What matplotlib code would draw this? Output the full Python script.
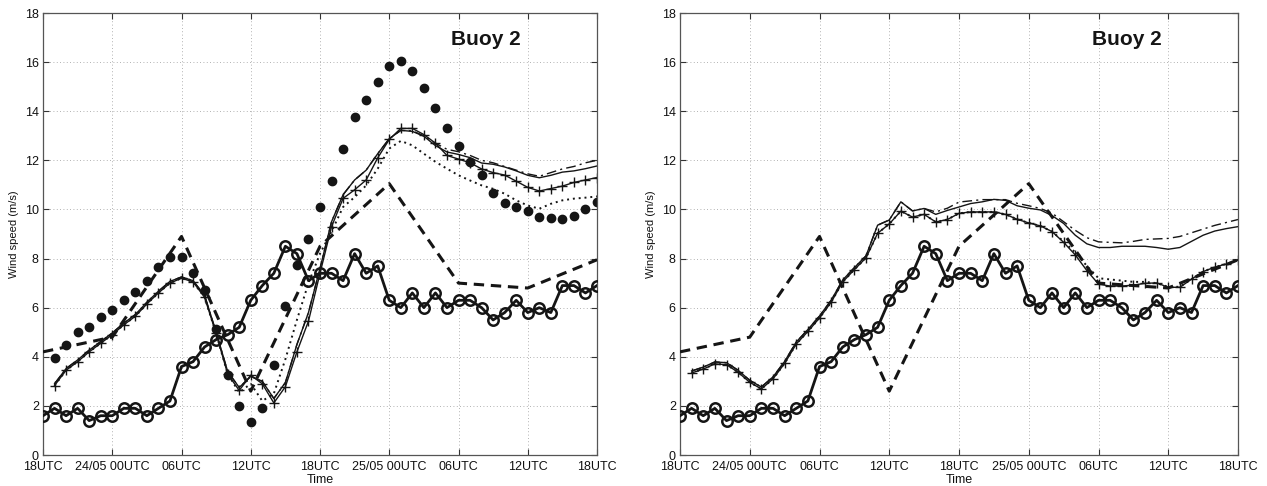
import numpy as np
import matplotlib
matplotlib.use("Agg")
import matplotlib.pyplot as plt

plt.rcParams["font.family"] = ["Liberation Sans", "DejaVu Sans"]

# ---------------------------------------------------------------------------
# Data: hours since 23/05 18UTC
# ---------------------------------------------------------------------------
hours = list(range(0, 49))
model_hours = list(range(1, 49))
analysis_hours = [0, 6, 12, 18, 24, 30, 36, 42, 48]

tick_hours = [0, 6, 12, 18, 24, 30, 36, 42, 48]
tick_labels = ["18UTC", "24/05 00UTC", "06UTC", "12UTC", "18UTC",
               "25/05 00UTC", "06UTC", "12UTC", "18UTC"]

# buoy observations (hourly)
buoy_obs = [1.6, 1.9, 1.6, 1.9, 1.4, 1.6, 1.6, 1.9, 1.9, 1.6, 1.9, 2.2,
            3.6, 3.8, 4.4, 4.7, 4.9, 5.2, 6.3, 6.9, 7.4, 8.5, 8.2, 7.1,
            7.4, 7.4, 7.1, 8.2, 7.4, 7.7, 6.3, 6.0, 6.6, 6.0, 6.6, 6.0,
            6.3, 6.3, 6.0, 5.5, 5.8, 6.3, 5.8, 6.0, 5.8, 6.9, 6.9, 6.6, 6.9]

# 6-hourly analysis
analysis = [4.2, 4.8, 8.9, 2.6, 8.5, 11.05, 7.0, 6.8, 7.95]

# left panel runs
left_dots = [3.95, 4.5, 5.0, 5.2, 5.6, 5.9, 6.3, 6.65, 7.1, 7.65, 8.05, 8.05,
             7.4, 6.7, 5.15, 3.25, 2.0, 1.35, 1.9, 3.65, 6.05, 7.75, 8.8, 10.1,
             11.15, 12.45, 13.75, 14.45, 15.2, 15.85, 16.05, 15.65, 14.95, 14.15,
             13.3, 12.6, 11.95, 11.4, 10.65, 10.25, 10.1, 9.95, 9.7, 9.65, 9.6,
             9.75, 10.0, 10.3]
left_plus = [2.83, 3.45, 3.8, 4.2, 4.55, 4.9, 5.3, 5.65, 6.15, 6.6, 7.0, 7.2,
             7.05, 6.42, 4.95, 3.3, 2.63, 3.25, 2.9, 2.12, 2.78, 4.2, 5.45, 7.4,
             9.3, 10.45, 10.8, 11.2, 12.1, 12.85, 13.3, 13.3, 13.05, 12.7, 12.2,
             12.05, 11.9, 11.65, 11.5, 11.4, 11.15, 10.9, 10.75, 10.85, 10.95,
             11.1, 11.2, 11.3]
left_solid = [2.9, 3.52, 3.87, 4.27, 4.62, 4.97, 5.37, 5.72, 6.22, 6.67, 7.07, 7.25,
              7.1, 6.5, 5.0, 3.4, 2.75, 3.2, 3.0, 2.3, 2.95, 4.5, 5.8, 7.6,
              9.5, 10.6, 11.2, 11.6, 12.27, 12.88, 13.22, 13.18, 12.98, 12.6, 12.34,
              12.24, 12.11, 11.89, 11.84, 11.73, 11.57, 11.39, 11.29, 11.39, 11.52,
              11.57, 11.66, 11.77]
left_dashdot = [2.9, 3.52, 3.87, 4.27, 4.62, 4.97, 5.37, 5.72, 6.22, 6.67, 7.07, 7.25,
                7.1, 6.5, 5.0, 3.4, 2.75, 3.2, 3.0, 2.3, 2.95, 4.5, 5.8, 7.6,
                9.5, 10.6, 11.2, 11.6, 12.27, 12.88, 13.22, 13.2, 13.0, 12.7, 12.45,
                12.35, 12.2, 12.0, 11.9, 11.75, 11.6, 11.45, 11.35, 11.5, 11.65,
                11.75, 11.9, 12.0]
left_dotted = [2.83, 3.45, 3.8, 4.2, 4.55, 4.9, 5.3, 5.65, 6.15, 6.6, 7.0, 7.2,
               7.05, 6.42, 4.95, 3.3, 2.55, 2.9, 2.2, 2.5, 3.9, 5.5, 7.0, 8.2,
               9.1, 10.1, 10.5, 10.98, 11.66, 12.48, 12.79, 12.61, 12.27, 11.94,
               11.66, 11.39, 11.18, 10.98, 10.84, 10.64, 10.37, 10.16, 10.03, 10.23,
               10.37, 10.44, 10.48, 10.53]

# right panel runs
right_plus = [3.34, 3.5, 3.71, 3.68, 3.37, 2.96, 2.69, 3.1, 3.73, 4.52, 5.03, 5.58,
              6.22, 7.05, 7.55, 8.03, 9.03, 9.41, 9.93, 9.69, 9.8, 9.49, 9.59, 9.84,
              9.9, 9.9, 9.9, 9.8, 9.6, 9.45, 9.33, 9.1, 8.66, 8.15, 7.51, 6.96,
              6.88, 6.88, 6.92, 6.99, 7.01, 6.83, 6.83, 7.16, 7.47, 7.65, 7.78, 7.94]
right_solid = [3.42, 3.58, 3.79, 3.76, 3.45, 3.04, 2.77, 3.18, 3.81, 4.6, 5.11, 5.66,
               6.3, 7.13, 7.63, 8.11, 9.36, 9.57, 10.31, 9.94, 10.04, 9.8, 9.96, 10.1,
               10.24, 10.31, 10.41, 10.37, 10.15, 10.05, 9.98, 9.75, 9.43, 8.95, 8.6,
               8.45, 8.45, 8.5, 8.5, 8.5, 8.45, 8.38, 8.45, 8.7, 8.95, 9.12, 9.22, 9.3]
right_dashdot = [3.42, 3.58, 3.79, 3.76, 3.45, 3.04, 2.77, 3.18, 3.81, 4.6, 5.11, 5.66,
                 6.3, 7.13, 7.63, 8.11, 9.36, 9.57, 10.31, 9.94, 10.04, 9.9, 10.05, 10.3,
                 10.35, 10.4, 10.4, 10.4, 10.25, 10.15, 10.04, 9.85, 9.5, 9.15, 8.85,
                 8.68, 8.66, 8.64, 8.7, 8.78, 8.8, 8.82, 8.9, 9.05, 9.2, 9.35, 9.47, 9.59]
right_dotted = [3.34, 3.5, 3.71, 3.68, 3.37, 2.96, 2.69, 3.1, 3.73, 4.52, 5.03, 5.58,
                6.22, 7.05, 7.55, 8.03, 9.03, 9.41, 9.93, 9.69, 9.8, 9.49, 9.59, 9.84,
                9.9, 9.9, 9.9, 9.8, 9.6, 9.45, 9.33, 9.1, 8.7, 8.25, 7.7, 7.2,
                7.15, 7.1, 7.05, 7.05, 7.0, 6.85, 6.85, 7.16, 7.47, 7.65, 7.78, 7.94]

INK = "#151515"


def style_axes(ax):
    ax.set_xlim(0, 48)
    ax.set_ylim(0, 18)
    ax.set_xticks(tick_hours)
    ax.set_xticklabels(tick_labels)
    ax.set_yticks(range(0, 19, 2))
    ax.grid(True, linestyle=(0, (1, 3)), color="#999999", linewidth=0.6)
    ax.tick_params(direction="in", length=4, width=0.8, top=True, right=True,
                   labelsize=9, colors="#333333", labelcolor="#111111")
    ax.tick_params(axis="x", pad=4)
    ax.tick_params(axis="y", pad=3)
    for sp in ax.spines.values():
        sp.set_color("#555555")
        sp.set_linewidth(0.9)
    ax.set_xlabel("Time", fontsize=9, labelpad=1, color="#111111")
    ax.set_ylabel("Wind speed (m/s)", fontsize=8, labelpad=4, color="#111111")
    ax.text(0.80, 0.94, "Buoy 2", transform=ax.transAxes, fontsize=15,
            fontweight="bold", ha="center", va="center", color=INK)


def draw_common(ax):
    ax.plot(analysis_hours, analysis, color=INK, linewidth=2.2,
            dashes=(3.4, 2.2), zorder=3)
    ax.plot(hours, buoy_obs, color=INK, linewidth=2.0, marker="o",
            markersize=7.5, markerfacecolor="none", markeredgewidth=1.8, zorder=5)


fig = plt.figure(figsize=(12.67, 4.86), dpi=100)
ax1 = fig.add_axes([43 / 1267, 1 - 455 / 486, 554 / 1267, 442 / 486])
ax2 = fig.add_axes([680 / 1267, 1 - 455 / 486, 558 / 1267, 442 / 486])

# left panel
ax1.plot(model_hours, left_dotted, color=INK, linestyle=(0, (1, 2)), linewidth=1.4)
ax1.plot(model_hours, left_dashdot, color=INK, linestyle=(0, (7, 3, 1.5, 3)), linewidth=1.0)
ax1.plot(model_hours, left_solid, color=INK, linewidth=1.0)
ax1.plot(model_hours, left_plus, color=INK, linewidth=1.0, marker="+",
         markersize=6.5, markeredgewidth=1.0)
ax1.plot(model_hours, left_dots, color=INK, linestyle="none", marker="o",
         markersize=6)
draw_common(ax1)
style_axes(ax1)

# right panel
ax2.plot(model_hours, right_dotted, color=INK, linestyle=(0, (1, 2)), linewidth=1.4)
ax2.plot(model_hours, right_dashdot, color=INK, linestyle=(0, (7, 3, 1.5, 3)), linewidth=1.0)
ax2.plot(model_hours, right_solid, color=INK, linewidth=1.0)
ax2.plot(model_hours, right_plus, color=INK, linewidth=1.0, marker="+",
         markersize=6.5, markeredgewidth=1.0)
draw_common(ax2)
style_axes(ax2)

fig.savefig("out.png", dpi=100, facecolor="white")
